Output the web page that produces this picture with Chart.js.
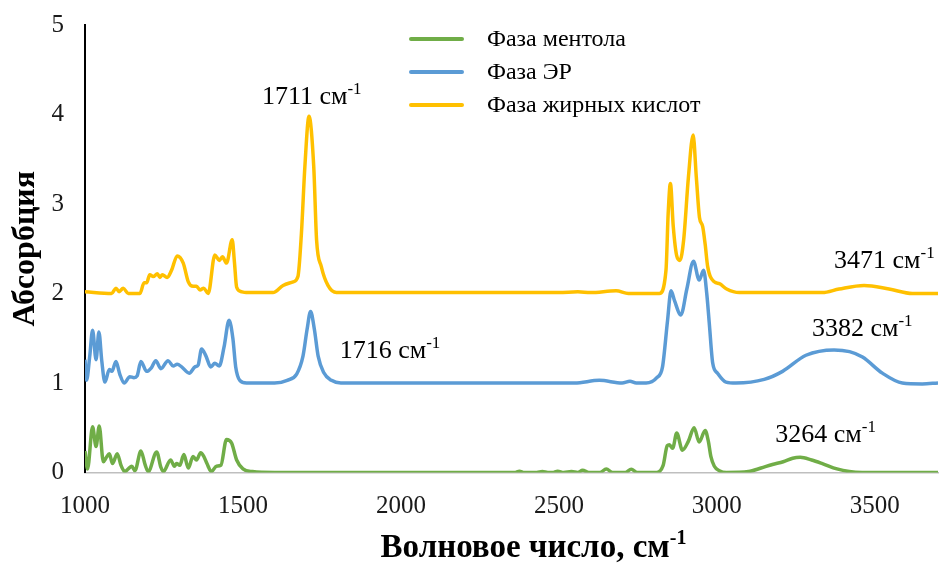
<!DOCTYPE html>
<html><head><meta charset="utf-8">
<script src="https://cdn.jsdelivr.net/npm/chart.js@4.4.1/dist/chart.umd.min.js"></script>
<style>html,body{margin:0;padding:0;background:#fff}canvas{display:block}</style>
</head><body>
<canvas id="c" width="939" height="565"></canvas>
<script>
// ---- data ----
const seriesNames = ['Фаза ментола', 'Фаза ЭР', 'Фаза жирных кислот'];

const mentholX = [1000,1008,1024,1035,1045,1058,1068,1077,1087,1102,1114,1126,1137,1148,1158,1177,1190,1200,1227,1240,1248,1271,1283,1290,1300,1313,1327,1342,1353,1366,1376,1386,1400,1416,1430,1448,1464,1480,1500,1530,1600,2000,2360,2375,2390,2430,2448,2465,2480,2496,2515,2540,2560,2575,2595,2630,2650,2670,2710,2729,2748,2810,2830,2843,2850,2860,2873,2891,2910,2928,2944,2963,2973,2981,2992,3008,3030,3100,3140,3176,3210,3240,3264,3300,3334,3380,3419,3460,3700];
const mentholY = [0.24,0.04,0.51,0.29,0.52,0.12,0.17,0.21,0.10,0.21,0.08,0.01,0.04,0.07,0.02,0.24,0.09,0.01,0.23,0.06,0.01,0.14,0.07,0.10,0.08,0.20,0.05,0.18,0.14,0.22,0.18,0.10,0.01,0.07,0.08,0.37,0.33,0.14,0.04,0.01,0.00,0.00,0.00,0.015,0.00,0.00,0.01,0.00,0.00,0.015,0.00,0.01,0.00,0.025,0.00,0.00,0.04,0.00,0.00,0.035,0.00,0.00,0.08,0.30,0.31,0.27,0.44,0.25,0.35,0.50,0.34,0.47,0.35,0.18,0.07,0.02,0.00,0.01,0.05,0.09,0.12,0.16,0.17,0.14,0.10,0.04,0.01,0.00,0.00];

const erX = [1000,1005,1015,1024,1035,1044,1053,1063,1077,1085,1098,1110,1124,1142,1155,1165,1177,1195,1210,1224,1240,1263,1279,1292,1306,1330,1348,1358,1369,1383,1398,1411,1425,1440,1456,1468,1477,1490,1511,1600,1640,1670,1690,1703,1714,1726,1738,1755,1780,1810,2550,2628,2700,2725,2745,2776,2810,2828,2844,2855,2866,2886,2905,2926,2944,2958,2968,2976,2987,3002,3029,3060,3150,3208,3282,3371,3420,3461,3524,3587,3650,3700];
const erY = [1.26,1.03,1.30,1.59,1.26,1.57,1.25,1.01,1.15,1.13,1.24,1.10,1.00,1.07,1.06,1.08,1.24,1.13,1.17,1.25,1.16,1.25,1.19,1.21,1.18,1.11,1.18,1.20,1.38,1.30,1.18,1.22,1.19,1.40,1.70,1.50,1.18,1.03,1.00,1.00,1.03,1.10,1.30,1.60,1.80,1.60,1.30,1.12,1.03,1.00,1.00,1.03,1.00,1.02,1.00,1.00,1.06,1.18,1.70,2.03,1.92,1.76,2.05,2.36,2.15,2.26,2.00,1.67,1.22,1.11,1.01,1.00,1.04,1.13,1.31,1.37,1.35,1.29,1.11,1.00,0.99,1.00];

const fattyX = [1000,1084,1098,1108,1121,1137,1174,1187,1195,1205,1216,1229,1237,1245,1260,1274,1292,1311,1327,1342,1353,1364,1376,1390,1411,1425,1435,1448,1466,1473,1480,1495,1510,1595,1627,1659,1674,1685,1696,1709,1724,1733,1748,1769,1796,2500,2560,2600,2681,2720,2818,2839,2846,2853,2862,2873,2883,2895,2910,2925,2935,2945,2955,2963,2971,2992,3008,3031,3071,3334,3387,3466,3545,3619,3700];
const fattyY = [2.02,2.00,2.06,2.02,2.06,2.00,2.00,2.12,2.12,2.21,2.19,2.22,2.18,2.21,2.18,2.26,2.42,2.34,2.13,2.08,2.08,2.04,2.06,2.00,2.43,2.37,2.41,2.34,2.60,2.35,2.07,2.02,2.01,2.01,2.09,2.13,2.19,2.67,3.42,3.98,3.42,2.60,2.30,2.09,2.01,2.01,2.02,2.01,2.03,2.00,2.00,2.26,2.90,3.23,2.75,2.42,2.37,2.60,3.30,3.77,3.30,2.85,2.75,2.55,2.30,2.13,2.11,2.05,2.01,2.01,2.05,2.09,2.05,2.00,2.00];

const xTicks = [1000, 1500, 2000, 2500, 3000, 3500];
const yTicks = [0, 1, 2, 3, 4, 5];

const peakLabels = ['1711', '1716', '3471', '3382', '3264'];
const peakAnchorX = [1560, 1806, 3371, 3301, 3185];
const peakAnchorY = [4.12, 1.28, 2.28, 1.52, 0.34];

const xTitle = 'Волновое число, см';
const yTitle = 'Абсорбция';
const unitText = ' см';
const supText = '-1';

// ---- styles ----
const SERIF = '"Liberation Serif","Times New Roman",serif';
const colors = ['#70AD47', '#5B9BD5', '#FFC000'];

function pts(xs, ys) { return xs.map((x, i) => ({ x: x, y: ys[i] })); }

function drawSup(ctx, x, y, base, sup, font, supFont, raise) {
  ctx.font = font; ctx.fillText(base, x, y);
  const w = ctx.measureText(base).width;
  ctx.font = supFont; ctx.fillText(sup, x + w, y - raise);
}
function supWidth(ctx, base, sup, font, supFont) {
  ctx.font = font; const w1 = ctx.measureText(base).width;
  ctx.font = supFont; return w1 + ctx.measureText(sup).width;
}

const extras = {
  id: 'extras',
  afterDraw(chart) {
    const ctx = chart.ctx, xs = chart.scales.x, ys = chart.scales.y, ca = chart.chartArea;
    ctx.save();
    ctx.fillStyle = '#000';
    ctx.textBaseline = 'alphabetic';
    ctx.textAlign = 'left';
    // peak annotations
    peakLabels.forEach((t, i) => {
      drawSup(ctx, xs.getPixelForValue(peakAnchorX[i]), ys.getPixelForValue(peakAnchorY[i]),
        t + unitText, supText, '26px ' + SERIF, '17px ' + SERIF, 10);
    });
    // x-axis title
    const tf = 'bold 33px ' + SERIF, sf = 'bold 20px ' + SERIF;
    const w = supWidth(ctx, xTitle, supText, tf, sf);
    const cx = (ca.left + ca.right) / 2 + 22;
    drawSup(ctx, cx - w / 2, 557, xTitle, supText, tf, sf, 13);
    // legend
    const rows = [39, 72, 105];
    chart.data.datasets.forEach((ds, i) => {
      ctx.strokeStyle = ds.borderColor; ctx.lineWidth = 4; ctx.lineCap = 'round';
      ctx.beginPath(); ctx.moveTo(411, rows[i]); ctx.lineTo(462, rows[i]); ctx.stroke();
      ctx.fillStyle = '#000'; ctx.font = '24px ' + SERIF; ctx.textBaseline = 'middle';
      ctx.fillText(ds.label, 487, rows[i] + 1);
    });
    ctx.restore();
  }
};

const chart = new Chart(document.getElementById('c'), {
  type: 'line',
  data: {
    datasets: [
      { label: seriesNames[0], data: pts(mentholX, mentholY), borderColor: colors[0] },
      { label: seriesNames[1], data: pts(erX, erY), borderColor: colors[1] },
      { label: seriesNames[2], data: pts(fattyX, fattyY), borderColor: colors[2] }
    ].map(d => Object.assign(d, { borderWidth: 3.5, pointRadius: 0, fill: false, cubicInterpolationMode: 'monotone' }))
  },
  options: {
    responsive: false, animation: false, devicePixelRatio: 1,
    layout: { padding: { top: 25, right: 1, left: 0, bottom: 0 } },
    plugins: { legend: { display: false }, tooltip: { enabled: false } },
    scales: {
      x: {
        type: 'linear', min: 1000, max: 3700,
        afterBuildTicks: s => { s.ticks = xTicks.map(v => ({ value: v })); },
        afterFit: s => { s.height = 92.5; s.paddingLeft = 0; s.paddingRight = 0; },
        grid: { display: false, drawTicks: false },
        border: { display: true, color: '#BFBFBF', width: 1.5 },
        ticks: { padding: 19, autoSkip: false, maxRotation: 0, color: '#1a1a1a', font: { family: SERIF, size: 25 },
                 callback: v => String(v) }
      },
      y: {
        min: 0, max: 5,
        afterBuildTicks: s => { s.ticks = yTicks.map(v => ({ value: v })); },
        afterFit: s => { s.width = 85; s.paddingTop = 0; s.paddingBottom = 0; },
        grid: { display: false, drawTicks: false },
        border: { display: true, color: '#000', width: 2 },
        ticks: { padding: 21, color: '#1a1a1a', font: { family: SERIF, size: 25 }, callback: v => String(v) },
        title: { display: true, text: yTitle, color: '#000', font: { family: SERIF, size: 32, weight: 'bold' }, padding: { top: 7, bottom: 0 } }
      }
    }
  },
  plugins: [extras]
});
</script>
</body></html>
